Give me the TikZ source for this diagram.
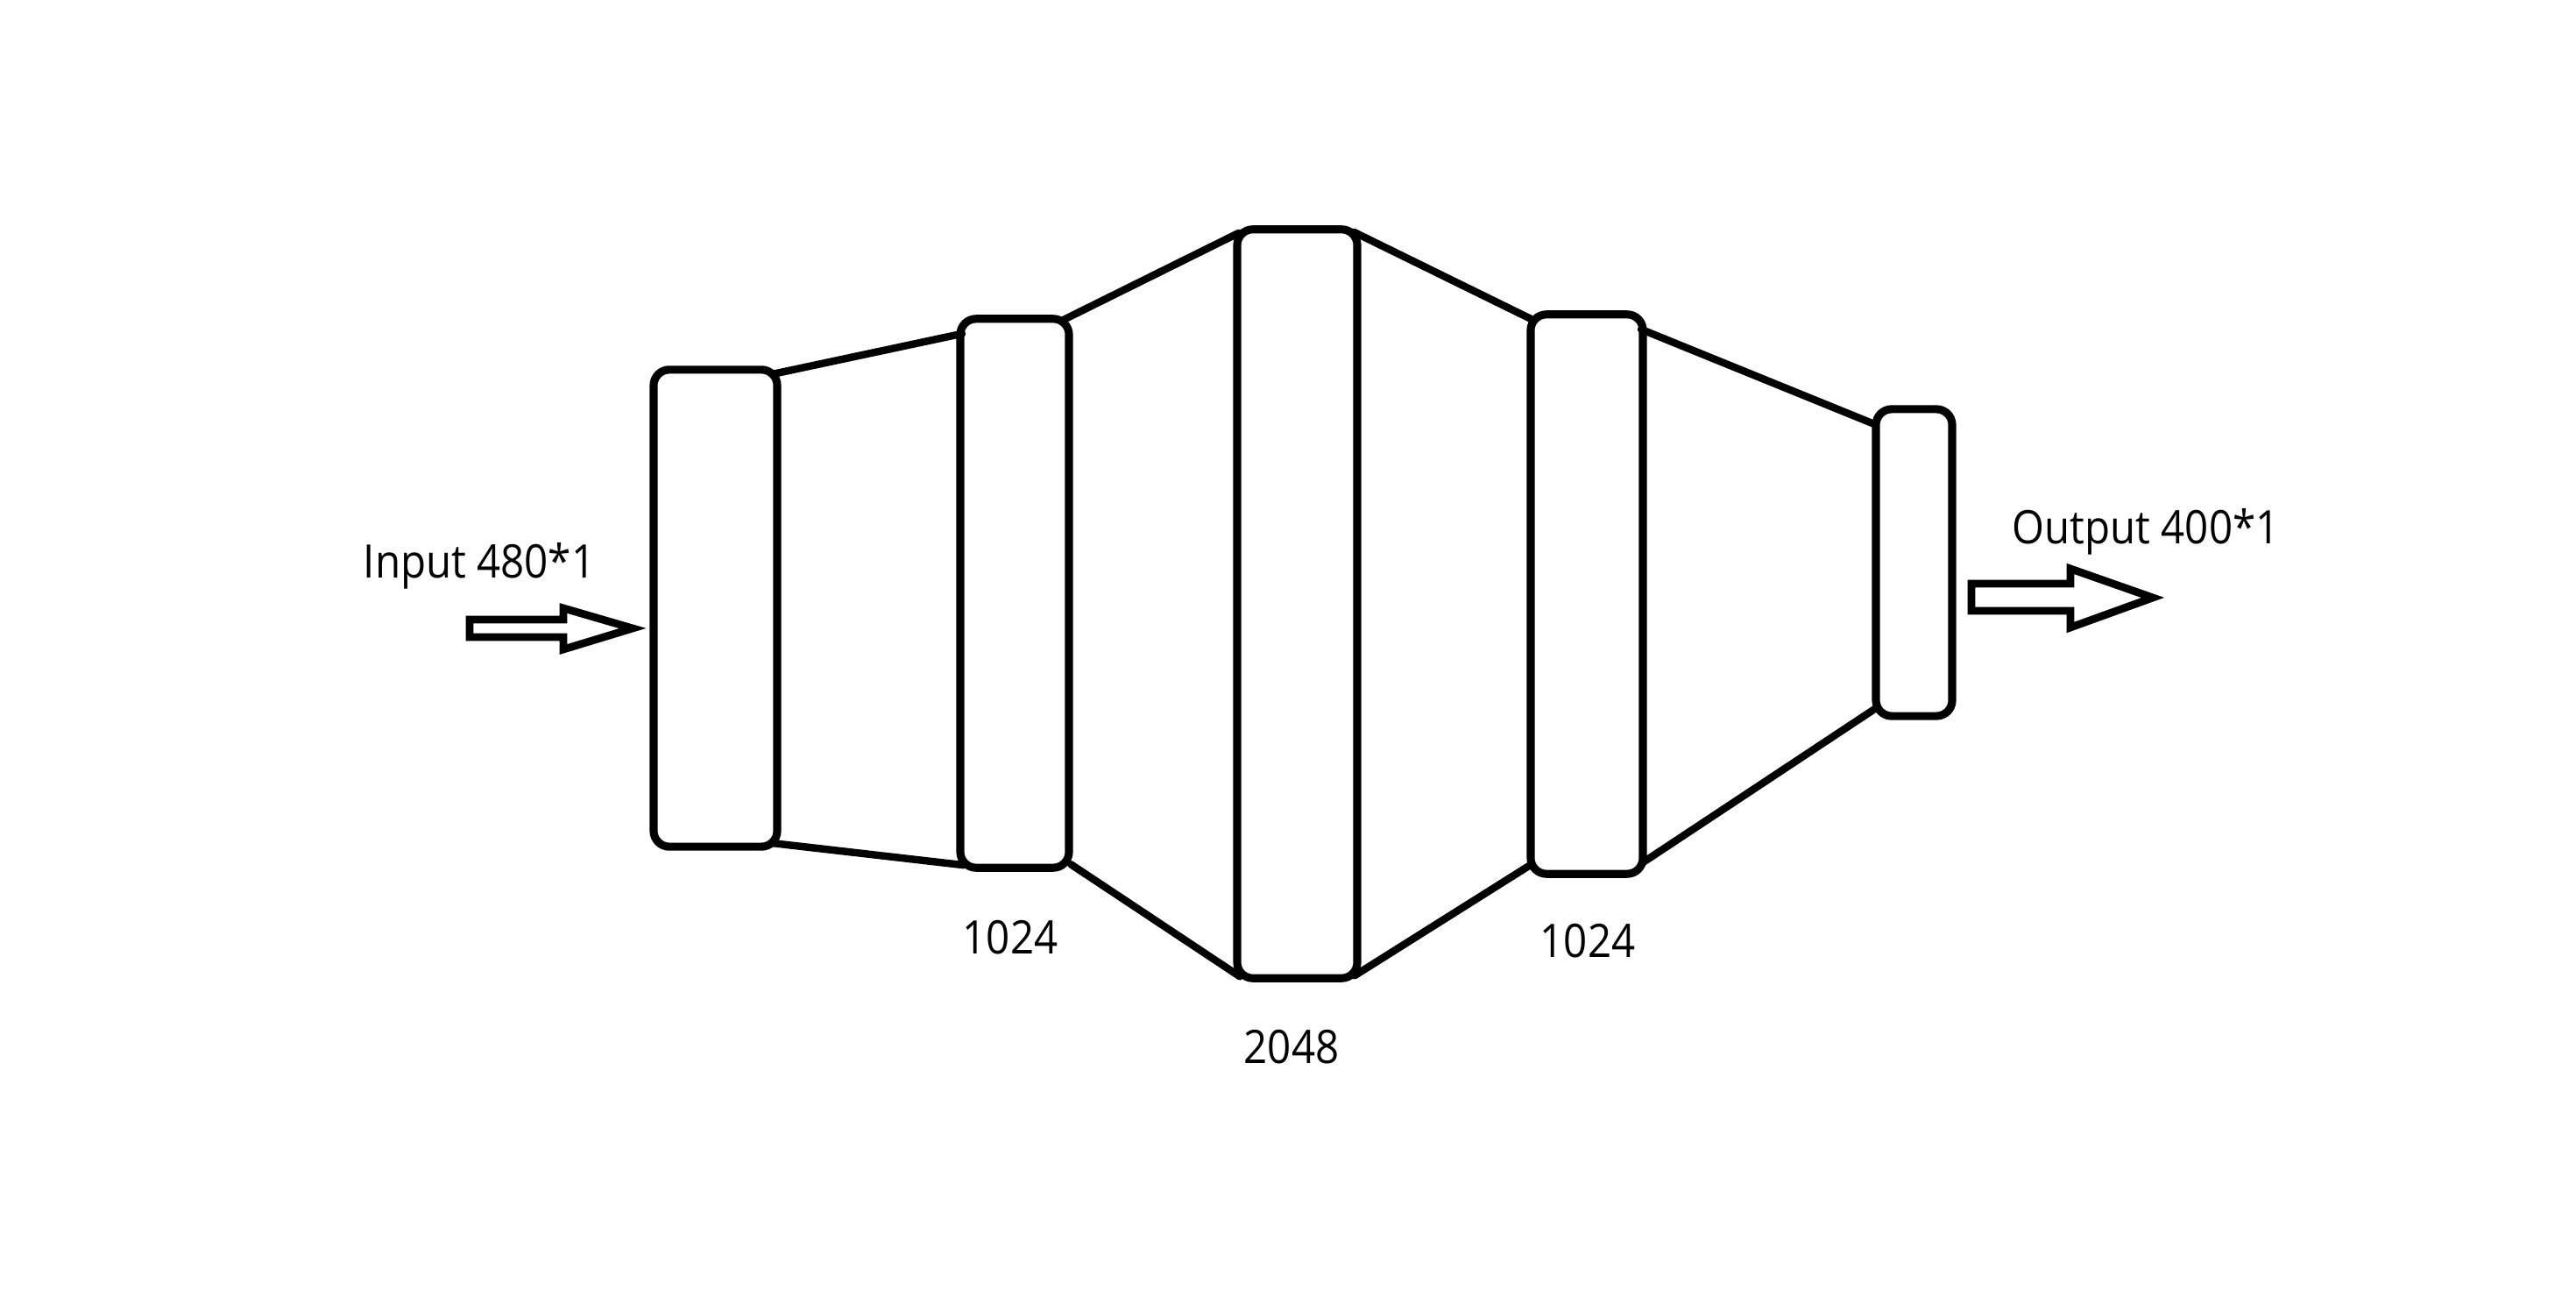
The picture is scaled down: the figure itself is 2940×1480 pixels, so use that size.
\documentclass[tikz,border=0pt]{standalone}
\usepackage{fontspec}
\setmainfont{Open Sans}[FakeStretch=0.9]

\begin{document}
\begin{tikzpicture}[x=0.01cm,y=-0.01cm,
	layerbox/.style={draw,line width=2.6pt,rounded corners=0.18cm,inner sep=0pt,outer sep=0pt},
	lbl/.style={font=\fontsize{15pt}{18pt}\selectfont,anchor=base,inner sep=0pt},
	hollow/.style={draw,line width=2.5pt,fill=white,line join=miter}]
			\useasboundingbox (0,0) rectangle (2940,1480);

			\node[layerbox,minimum width=1.41cm,minimum height=5.44cm] (L0) at (816.5,694) {};
			\node[layerbox,minimum width=1.24cm,minimum height=6.26cm] (L1) at (1158,677) {};
			\node[layerbox,minimum width=1.37cm,minimum height=8.54cm] (L2) at (1480.5,689) {};
			\node[layerbox,minimum width=1.28cm,minimum height=6.38cm] (L3) at (1811,678) {};
			\node[layerbox,minimum width=0.87cm,minimum height=3.50cm] (L4) at (2184.5,642) {};

			\path[draw,line width=2.4pt,line cap=round]
						 ([shift={(-5,5)}]L0.north east) edge ([shift={(2,17)}]L1.north west)
						 ([shift={(-5,-4)}]L0.south east) edge ([shift={(4,-3)}]L1.south west)
						 ([shift={(-8,2)}]L1.north east) edge ([shift={(2,4)}]L2.north west)
						 ([shift={(2,-4)}]L1.south east) edge ([shift={(3,-2)}]L2.south west)
						 ([shift={(-4,3)}]L2.north east) edge ([shift={(0,5)}]L3.north west)
						 ([shift={(-3,-3)}]L2.south east) edge ([shift={(1,-11)}]L3.south west)
						 ([shift={(-2,17)}]L3.north east) edge ([shift={(-2,17)}]L4.north west)
						 ([shift={(0,-13)}]L3.south east) edge ([shift={(0,-9)}]L4.south west);

			% input and output arrows
			\draw[hollow] (536,707) -- (643,707) -- (643,694) -- (722,717) -- (643,741) -- (643,727) -- (536,727) -- cycle;
			\draw[hollow] (2250,666) -- (2363,666) -- (2363,649) -- (2457,682) -- (2363,716) -- (2363,697) -- (2250,697) -- cycle;

			\node[lbl] (in) at (547,660) {Input 480*1};
			\node[lbl] (out) at (2449,621) {Output 400*1};
			\node[lbl] (n1) at (1153,1088) {1024};
			\node[lbl] (n2) at (1474,1213) {2048};
			\node[lbl] (n3) at (1812,1093) {1024};
		\end{tikzpicture}
\end{document}
